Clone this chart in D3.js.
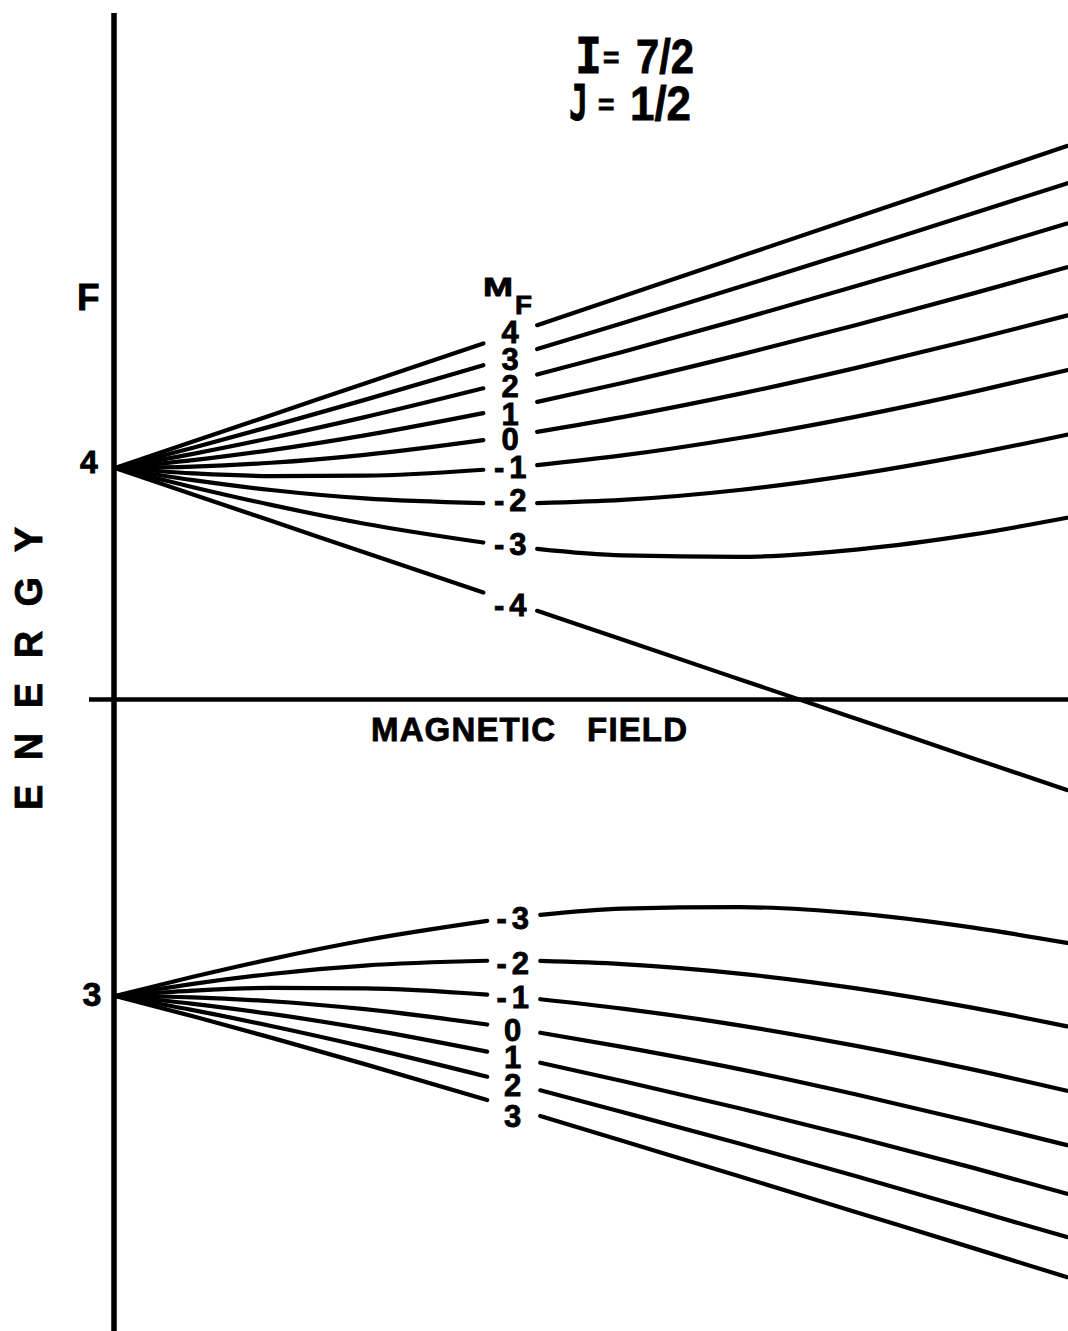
<!DOCTYPE html>
<html><head><meta charset="utf-8">
<script src="https://cdn.jsdelivr.net/npm/d3@7"></script>
<style>body{margin:0;background:#fff}svg{display:block}</style>
</head><body><svg id="c" width="1068" height="1331"></svg>
<script>
// Field values (arbitrary units) at which the level energies were read
const fieldF4 = [0, 0.1, 0.2, 0.32, 0.472, 0.541, 0.65, 0.8, 0.95, 1.1, 1.22];
const fieldF3 = [0, 0.1, 0.2, 0.32, 0.477, 0.545, 0.65, 0.8, 0.95, 1.1, 1.22];
// gaps in the lines where the M_F labels sit (field units)
const gapF4 = [0.472, 0.541];
const gapF3 = [0.477, 0.545];

const mfF4 = [4, 3, 2, 1, 0, -1, -2, -3, -4];
const mfF3 = [-3, -2, -1, 0, 1, 2, 3];

// Energies (units of hyperfine splitting)
const energyF4 = [
  [0.4375, 0.4875, 0.5375, 0.5975, 0.6735, 0.7080, 0.7625, 0.8375, 0.9125, 0.9875, 1.0475],
  [0.4375, 0.4760, 0.5163, 0.5665, 0.6323, 0.6628, 0.7117, 0.7801, 0.8496, 0.9199, 0.9766],
  [0.4375, 0.4643, 0.4943, 0.5338, 0.5884, 0.6146, 0.6573, 0.7185, 0.7820, 0.8472, 0.9004],
  [0.4375, 0.4523, 0.4714, 0.4993, 0.5414, 0.5627, 0.5985, 0.6517, 0.7085, 0.7682, 0.8176],
  [0.4375, 0.4400, 0.4474, 0.4625, 0.4904, 0.5060, 0.5339, 0.5778, 0.6272, 0.6808, 0.7263],
  [0.4375, 0.4274, 0.4223, 0.4229, 0.4342, 0.4430, 0.4613, 0.4943, 0.5349, 0.5817, 0.6228],
  [0.4375, 0.4145, 0.3958, 0.3798, 0.3708, 0.3710, 0.3770, 0.3958, 0.4255, 0.4643, 0.5006],
  [0.4375, 0.4012, 0.3676, 0.3320, 0.2963, 0.2844, 0.2720, 0.2692, 0.2830, 0.3117, 0.3432],
  [0.4375, 0.3875, 0.3375, 0.2775, 0.2015, 0.1670, 0.1125, 0.0375, -0.0375, -0.1125, -0.1725]
];
const energyF3 = [
  [-0.5625, -0.5262, -0.4926, -0.4570, -0.4203, -0.4088, -0.3970, -0.3942, -0.4060, -0.4330, -0.4620],
  [-0.5625, -0.5395, -0.5208, -0.5048, -0.4957, -0.4961, -0.5020, -0.5200, -0.5480, -0.5850, -0.6200],
  [-0.5625, -0.5524, -0.5473, -0.5479, -0.5598, -0.5686, -0.5863, -0.6180, -0.6570, -0.7020, -0.7420],
  [-0.5625, -0.5650, -0.5724, -0.5875, -0.6165, -0.6320, -0.6589, -0.7010, -0.7490, -0.8010, -0.8450],
  [-0.5625, -0.5773, -0.5964, -0.6243, -0.6679, -0.6889, -0.7235, -0.7750, -0.8300, -0.8880, -0.9370],
  [-0.5625, -0.5893, -0.6193, -0.6588, -0.7153, -0.7411, -0.7823, -0.8420, -0.9040, -0.9680, -1.0190],
  [-0.5625, -0.6010, -0.6413, -0.6915, -0.7595, -0.7896, -0.8367, -0.9040, -0.9720, -1.0400, -1.0950]
];

const spinText = [["I", "7/2"], ["J", "1/2"]];
const levelF = ["4", "3"];

// ---------------- drawing ----------------
const svg = d3.select('#c');
const FONT = "'Liberation Sans', Arial, sans-serif";
const MONO = "'DejaVu Sans Mono', monospace";

const x = d3.scaleLinear().domain([0, 1.22]).range([115, 1067]);
const y = d3.scaleLinear().domain([0, 1]).range([699, 171]);

const line = d3.line().x(d => x(d[0])).y(d => y(d[1])).curve(d3.curveMonotoneX);

function label(sel) {
  return sel.attr('font-family', FONT).attr('font-weight', 'bold')
    .attr('stroke', '#000').attr('stroke-width', 0.8).attr('fill', '#000');
}

// axes
svg.append('line').attr('x1', x(0) - 1).attr('x2', x(0) - 1)
  .attr('y1', 13).attr('y2', 1331)
  .attr('stroke', '#000').attr('stroke-width', 5.5);
svg.append('line').attr('x1', 89).attr('x2', 1068)
  .attr('y1', y(0) + 0.5).attr('y2', y(0) + 0.5)
  .attr('stroke', '#000').attr('stroke-width', 4.5);

const nudgeF4 = {"4": -2, "3": 2, "2": 5, "1": 6, "0": 3, "-1": 0, "-2": -3, "-3": -2, "-4": 3};
const nudgeF3 = {"-3": 0, "-2": 2, "-1": 0, "0": 1, "1": 0, "2": 2, "3": 8};

function drawFamily(field, levels, mfs, gap, nudge, dxLabel) {
  const gi = field.indexOf(gap[0]);
  levels.forEach((E, i) => {
    const pts = field.map((f, j) => [f, E[j]]);
    const left = pts.filter(p => p[0] <= gap[0] + 1e-9);
    const right = pts.filter(p => p[0] >= gap[1] - 1e-9);
    [left, right].forEach(seg => {
      svg.append('path').attr('d', line(seg))
        .attr('fill', 'none').attr('stroke', '#000')
        .attr('stroke-width', 4.2).attr('stroke-linecap', 'round');
    });
    const m = mfs[i];
    const eMid = (E[gi] + E[gi + 1]) / 2;
    const cx = x((gap[0] + gap[1]) / 2) + dxLabel;
    const cy = y(eMid) + (nudge[String(m)] || 0);
    const t = label(svg.append('text')).attr('x', cx).attr('y', cy + 11)
      .attr('text-anchor', 'middle').attr('font-size', 31);
    if (m < 0) {
      t.append('tspan').text('-');
      t.append('tspan').attr('dx', 5).text(String(-m));
    } else {
      t.text(String(m));
    }
  });
}

drawFamily(fieldF4, energyF4, mfF4, gapF4, nudgeF4, 0);
drawFamily(fieldF3, energyF3, mfF3, gapF3, nudgeF3, -1);

// M_F header
label(svg.append('text')).attr('x', 483).attr('y', 296).attr('font-size', 26)
  .attr('textLength', 30).attr('lengthAdjust', 'spacingAndGlyphs').text('M');
label(svg.append('text')).attr('x', 515).attr('y', 314).attr('font-size', 26)
  .attr('textLength', 17).attr('lengthAdjust', 'spacingAndGlyphs').text('F');

// I = 7/2, J = 1/2
spinText.forEach((s, k) => {
  const base = k === 0 ? 73 : 120;
  const lx = k === 0 ? 575 : 569;
  label(svg.append('text')).attr('x', lx).attr('y', base)
    .attr('font-family', MONO).attr('font-size', 50)
    .attr('textLength', k === 0 ? 27 : 19).attr('lengthAdjust', 'spacingAndGlyphs')
    .text(s[0]);
  label(svg.append('text')).attr('x', k === 0 ? 603 : 598).attr('y', base - 6)
    .attr('font-size', 28).text('=');
  label(svg.append('text')).attr('x', k === 0 ? 636 : 630).attr('y', base)
    .attr('font-size', 48)
    .attr('textLength', k === 0 ? 58 : 61).attr('lengthAdjust', 'spacingAndGlyphs')
    .text(s[1]);
});

// left labels
label(svg.append('text')).attr('x', 77).attr('y', 310).attr('font-size', 37).text('F');
label(svg.append('text')).attr('x', 89).attr('y', y(energyF4[0][0]) + 5)
  .attr('text-anchor', 'middle').attr('font-size', 32).text(levelF[0]);
label(svg.append('text')).attr('x', 92).attr('y', y(energyF3[0][0]) + 10)
  .attr('text-anchor', 'middle').attr('font-size', 34).text(levelF[1]);

// axis titles
label(svg.append('text')).attr('transform', 'translate(42,668.5) rotate(-90)')
  .attr('text-anchor', 'middle').attr('font-size', 38)
  .attr('textLength', 283).attr('lengthAdjust', 'spacing')
  .text('ENERGY');
label(svg.append('text')).attr('x', 371).attr('y', 741).attr('font-size', 33)
  .style('white-space', 'pre')
  .attr('textLength', 316).attr('lengthAdjust', 'spacing')
  .text('MAGNETIC   FIELD');
</script>
</body></html>
